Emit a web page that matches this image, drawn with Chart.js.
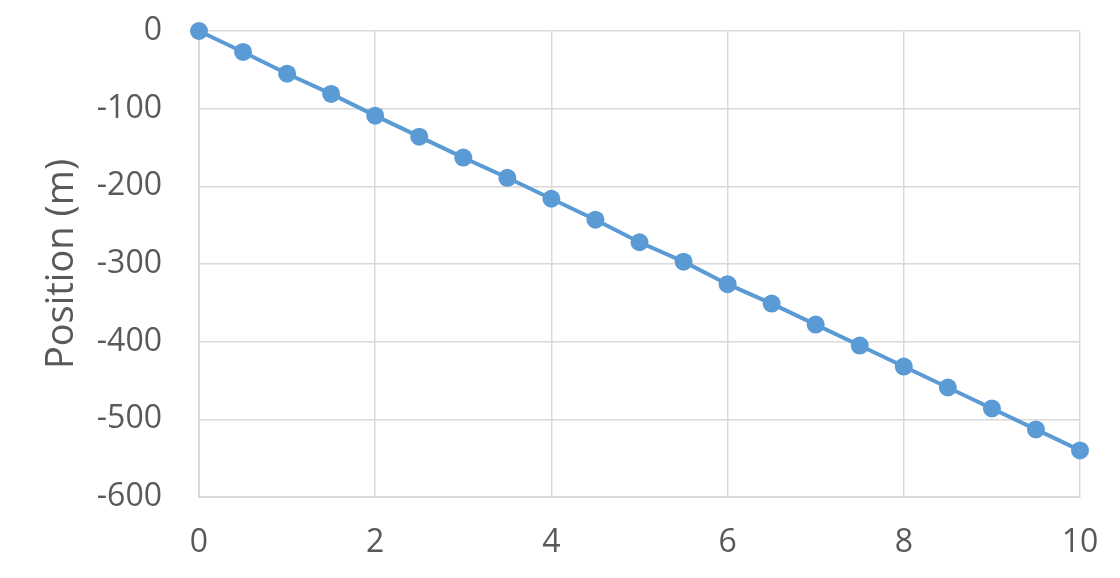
<!DOCTYPE html>
<html>
<head>
<meta charset="utf-8">
<script src="https://cdn.jsdelivr.net/npm/chart.js@4/dist/chart.umd.min.js"></script>
<style>
html,body{margin:0;padding:0;background:#fff;}
#wrap{width:1120px;height:578px;position:relative;}
</style>
</head>
<body>
<div id="wrap"><canvas id="c" width="1120" height="578"></canvas></div>
<script>
const times = [0,0.5,1,1.5,2,2.5,3,3.5,4,4.5,5,5.5,6,6.5,7,7.5,8,8.5,9,9.5,10];
const positions = [0,-27,-55,-81,-109,-136,-163,-189,-216,-243,-272,-297,-326,-351,-378,-405,-432,-459,-486,-513,-540];
const xTicks = [0,2,4,6,8,10];
const yTicks = [0,-100,-200,-300,-400,-500,-600];
const yTitle = 'Position (m)';

const points = times.map((t,i)=>({x:t,y:positions[i]}));
const FONT = "'Open Sans', 'Liberation Sans', sans-serif";
const TXT = '#595959';

function zeroPad(s){ s.paddingTop = 0; s.paddingBottom = 0; s.paddingLeft = 0; s.paddingRight = 0; }

new Chart(document.getElementById('c'), {
  type: 'line',
  data: { datasets: [{
    data: points,
    borderColor: '#5b9bd5',
    backgroundColor: '#5b9bd5',
    borderWidth: 4,
    pointRadius: 9,
    pointHoverRadius: 9,
    pointBorderWidth: 0,
    tension: 0,
    fill: false,
    clip: false
  }]},
  options: {
    responsive: false,
    animation: false,
    events: [],
    layout: { padding: { top: 31, right: 40, bottom: 0, left: 0 } },
    plugins: { legend: { display: false }, tooltip: { enabled: false } },
    scales: {
      x: {
        type: 'linear',
        min: 0, max: 10,
        afterBuildTicks: s => { s.ticks = xTicks.map(v=>({value:v})); },
        afterFit: s => { s.height = 81; zeroPad(s); },
        grid: { color: '#d9d9d9', lineWidth: 1.5, drawTicks: false },
        border: { color: '#d9d9d9', width: 2 },
        ticks: { color: TXT, font: { family: FONT, size: 32 }, padding: 27, maxRotation: 0 }
      },
      y: {
        type: 'linear',
        min: -600, max: 0,
        afterBuildTicks: s => { s.ticks = yTicks.map(v=>({value:v})); },
        afterFit: s => { s.width = 199; zeroPad(s); },
        grid: { color: '#d9d9d9', lineWidth: 1.5, drawTicks: false },
        border: { color: '#d9d9d9', width: 2 },
        ticks: { color: TXT, font: { family: FONT, size: 32 }, padding: 37 },
        title: { display: true, text: yTitle, color: TXT, font: { family: FONT, size: 38 }, padding: { top: 39, bottom: 0 } }
      }
    }
  }
});
</script>
</body>
</html>
